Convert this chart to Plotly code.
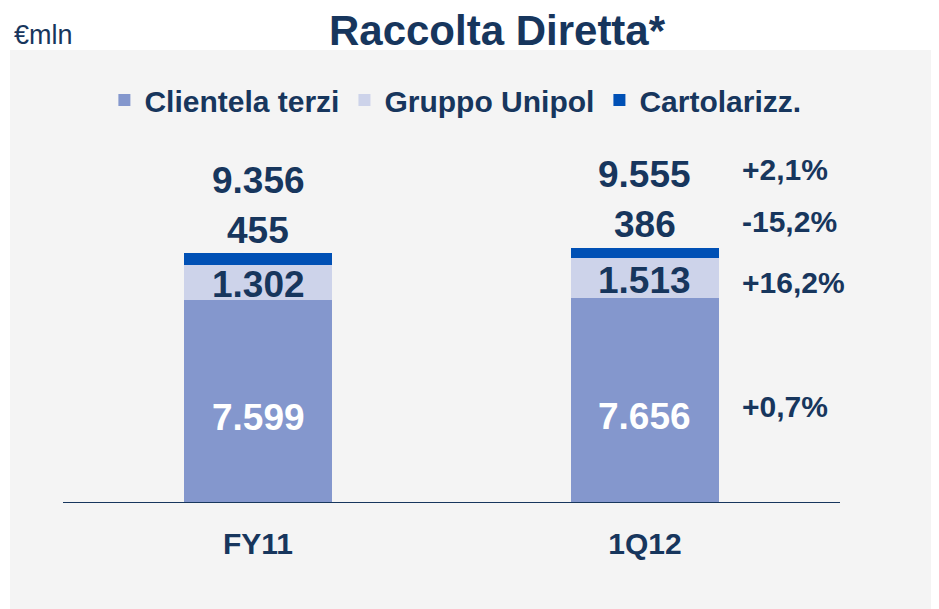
import plotly.graph_objects as go

# data
categories = ["FY11", "1Q12"]
clientela_terzi = [7599, 7656]
gruppo_unipol = [1302, 1513]
cartolarizz = [455, 386]
totals = [9356, 9555]
# changes 1Q12 vs FY11, top to bottom: totale, cartolarizz., gruppo unipol, clientela terzi
var_labels = ["+2,1%", "-15,2%", "+16,2%", "+0,7%"]

NAVY = "#17365D"
FONT = "Arial, Liberation Sans, sans-serif"
C_CLIENT = "#8497CD"
C_UNIPOL = "#CDD3EA"
C_CART = "#0050B5"

# page body has an 8px margin, so the figure is a bit smaller than the window
W, H = 931, 601


def fmt(v):
    return f"{v:,}".replace(",", ".")


fig = go.Figure()
bar_w = 0.382
fig.add_trace(go.Bar(x=[0, 1], y=clientela_terzi, name="Clientela terzi",
                     marker=dict(color=C_CLIENT, line=dict(width=0)), width=bar_w))
fig.add_trace(go.Bar(x=[0, 1], y=gruppo_unipol, name="Gruppo Unipol",
                     marker=dict(color=C_UNIPOL, line=dict(width=0)), width=bar_w))
fig.add_trace(go.Bar(x=[0, 1], y=cartolarizz, name="Cartolarizz.",
                     marker=dict(color=C_CART, line=dict(width=0)), width=bar_w))

lab_font = dict(family=FONT, size=37, color=NAVY, weight="bold")
annotations = []
for i in range(len(categories)):
    c, g, k, t = clientela_terzi[i], gruppo_unipol[i], cartolarizz[i], totals[i]
    top = c + g + k
    annotations.append(dict(x=i, y=top, text=fmt(t), showarrow=False, yanchor="middle",
                            yshift=73, font=lab_font))
    annotations.append(dict(x=i, y=top, text=fmt(k), showarrow=False, yanchor="middle",
                            yshift=23, font=lab_font))
    annotations.append(dict(x=i, y=c + g / 2, text=fmt(g), showarrow=False, yanchor="middle",
                            yshift=-2, font=lab_font))
    annotations.append(dict(x=i, y=c / 2, text=fmt(c), showarrow=False, yanchor="middle",
                            yshift=-16, font=dict(family=FONT, size=37, color="white", weight="bold")))

# variation labels next to 1Q12
i = 1
c, g, k = clientela_terzi[i], gruppo_unipol[i], cartolarizz[i]
top = c + g + k
var_pos = [(top, 78), (top, 26), (c + g / 2, -4), (c / 2, -6)]
for lab, (yy, sh) in zip(var_labels, var_pos):
    annotations.append(dict(x=1.2455, y=yy, text=lab, showarrow=False, xanchor="left",
                            yanchor="middle", yshift=sh,
                            font=dict(family=FONT, size=30, color=NAVY, weight="bold")))

annotations.append(dict(xref="paper", yref="paper", x=-0.0656, y=1.29, text="€mln",
                        showarrow=False, xanchor="left", yanchor="middle",
                        font=dict(family=FONT, size=27, color=NAVY)))

fig.update_layout(
    width=W, height=H,
    margin=dict(l=55, r=99, t=132, b=106),
    paper_bgcolor="white", plot_bgcolor="rgba(0,0,0,0)",
    barmode="stack",
    title=dict(text="Raccolta Diretta*", x=489 / W, y=1 - 22 / H,
               xanchor="center", yanchor="middle",
               font=dict(family=FONT, size=42, color=NAVY, weight="bold")),
    legend=dict(orientation="h", x=0.505, y=1.11, xanchor="center", yanchor="middle",
                traceorder="normal", bgcolor="rgba(0,0,0,0)",
                font=dict(family=FONT, size=30, color=NAVY, weight="bold")),
    xaxis=dict(range=[-0.504, 1.504], tickvals=[0, 1], ticktext=categories,
               showgrid=False, zeroline=False, showline=False, ticks="",
               ticklabelstandoff=20,
               tickfont=dict(family=FONT, size=30, color=NAVY, weight="bold")),
    yaxis=dict(range=[0, 13585], visible=False, showgrid=False, zeroline=False),
    shapes=[
        dict(type="rect", xref="paper", yref="paper", x0=-0.0682, x1=1.2, y0=-0.4, y1=1.248,
             fillcolor="#F4F4F4", line=dict(width=0), layer="below"),
        dict(type="line", xref="paper", yref="y", x0=0, x1=1, y0=0, y1=0,
             line=dict(color=NAVY, width=2), layer="above"),
    ],
    annotations=annotations,
    showlegend=True,
)

fig.write_html("out.html")
